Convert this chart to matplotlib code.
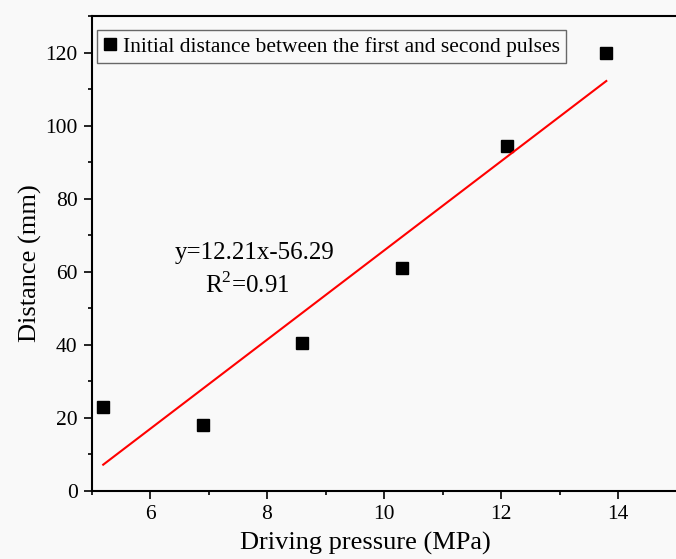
import matplotlib
matplotlib.use("Agg")
import matplotlib.pyplot as plt
import numpy as np
from matplotlib.ticker import MultipleLocator

pressure = [5.2, 6.9, 8.6, 10.3, 12.1, 13.8]
distance = [23, 18, 40.5, 61, 94.5, 120]
slope, intercept = 12.21, -56.29
legend_label = "Initial distance between the first and second pulses"

plt.rcParams['font.family'] = ['Liberation Serif', 'DejaVu Serif']
plt.rcParams['mathtext.fontset'] = 'custom'
plt.rcParams['mathtext.rm'] = 'Liberation Serif'

fig = plt.figure(figsize=(6.76, 5.59), dpi=100, facecolor='#f9f9f9')
ax = fig.add_axes([91.5/676, 1-491/559, 585/676, 475/559])
ax.set_facecolor('#f9f9f9')

ax.plot(pressure, distance, 's', color='black', ms=8.5, linestyle='none', label=legend_label)
xf = np.array([pressure[0], pressure[-1]])
ax.plot(xf, slope*xf + intercept, color='red', lw=1.5)

ax.set_xlim(5, 15)
ax.set_ylim(0, 130)
ax.xaxis.set_major_locator(MultipleLocator(2))
ax.xaxis.set_minor_locator(MultipleLocator(1))
ax.yaxis.set_major_locator(MultipleLocator(20))
ax.yaxis.set_minor_locator(MultipleLocator(10))
ax.tick_params(which='major', direction='out', length=6, width=1.2, labelsize=15.5, colors='black', pad=4)
ax.tick_params(which='minor', direction='out', length=3, width=1.2)
ax.set_xticks([6, 8, 10, 12, 14])
for s in ['left', 'bottom', 'top']:
    ax.spines[s].set_linewidth(1.5)
ax.spines['right'].set_visible(False)

ax.set_xlabel('Driving pressure (MPa)', fontsize=19)
ax.xaxis.set_label_coords((365-91.5)/585, -(543-491)/475, transform=ax.transAxes)
ax.xaxis.label.set_va('center')
ax.set_ylabel('Distance (mm)', fontsize=19)
ax.yaxis.set_label_coords(-(91.5-30)/585, (491-263)/475, transform=ax.transAxes)
ax.yaxis.label.set_va('center')

fig.text(255/676, 1-253/559, 'y=12.21x-56.29', fontsize=18, ha='center', va='center')
fig.text(247/676, 1-285/559, r'R$^{\mathrm{2}}$=0.91', fontsize=18, ha='center', va='center')

leg = ax.legend(loc='upper left', bbox_to_anchor=(5.5/585, 1-14/475), fontsize=15.5,
                frameon=True, fancybox=False, edgecolor='#444444', handlelength=0.6,
                handletextpad=0.3, borderpad=0.3, borderaxespad=0)
leg.get_frame().set_linewidth(1.0)
leg.get_frame().set_facecolor('#f9f9f9')

fig.savefig('out.png', dpi=100, facecolor=fig.get_facecolor())
